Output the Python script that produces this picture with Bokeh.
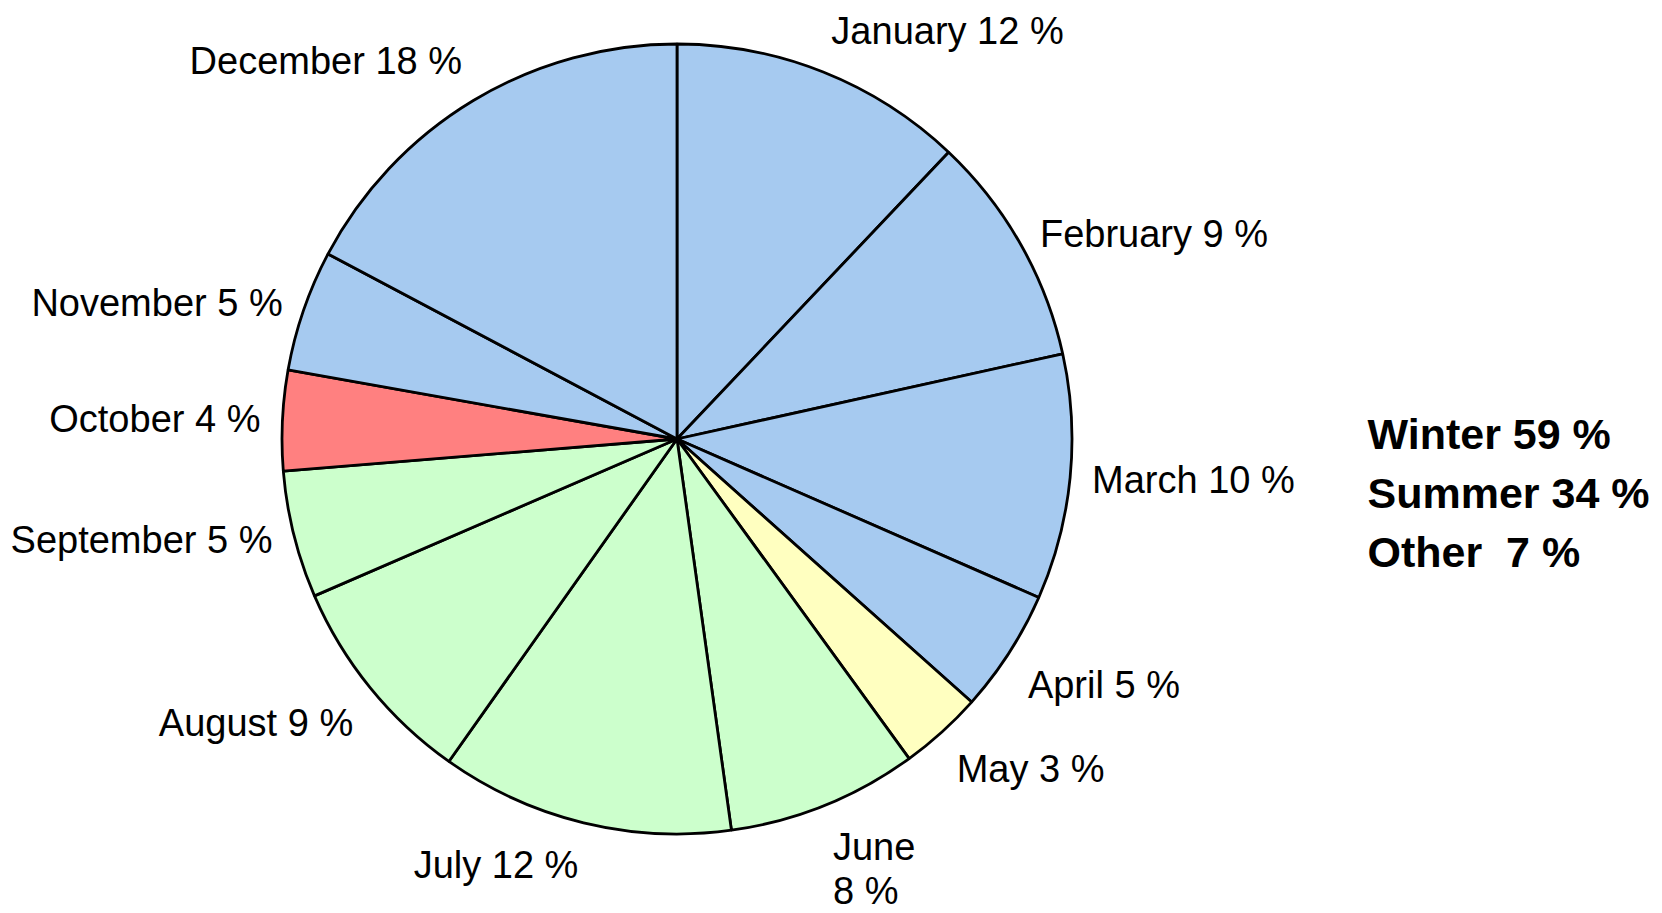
import numpy as np
from bokeh.plotting import figure
from bokeh.models import Range1d, ColumnDataSource
from bokeh.core.properties import value
from bokeh.embed import file_html
from bokeh.resources import INLINE

# ---- data -------------------------------------------------------------
months = ["January", "February", "March", "April", "May", "June",
          "July", "August", "September", "October", "November", "December"]
# slice sizes as drawn (share of the whole, %)
shares = [12.07, 9.47, 10.03, 5.03, 3.40, 7.80, 12.00, 8.70, 5.20, 4.10, 4.96, 17.24]
# percentages as printed in the labels
pct_labels = [12, 9, 10, 5, 3, 8, 12, 9, 5, 4, 5, 18]
seasons = ["Winter", "Winter", "Winter", "Winter", "Other", "Summer",
           "Summer", "Summer", "Summer", "Other", "Winter", "Winter"]
season_order = ["Winter", "Summer", "Other"]
wrapped_months = ["June"]

# ---- styles -----------------------------------------------------------
BLUE, GREEN, YELLOW, RED = "#a6caf0", "#ccffcc", "#ffffc0", "#ff8080"
slice_colors = [BLUE, BLUE, BLUE, BLUE, YELLOW, GREEN,
                GREEN, GREEN, GREEN, RED, BLUE, BLUE]
FONT = "Liberation Sans"

W, H = 1662, 913                 # window size
FW, FH = 1654, 913               # figure size
CX, CY = 676.5, H - 438.5        # pie centre (data units = pixels, y up)
R = 395
LABEL_D = R + 22

p = figure(width=FW, height=FH, output_backend="svg",
           toolbar_location=None, min_border=0,
           x_range=Range1d(0, FW), y_range=Range1d(H - FH, H))
p.axis.visible = False
p.grid.visible = False
p.outline_line_color = None
p.background_fill_color = "white"
p.border_fill_color = "white"

frac = np.array(shares) / np.sum(shares)
cum = np.cumsum(frac)
start = np.pi / 2 - 2 * np.pi * (cum - frac)
end = np.pi / 2 - 2 * np.pi * cum
mid = (start + end) / 2

src = ColumnDataSource(dict(start=start, end=end, color=slice_colors))
p.wedge(x=CX, y=CY, radius=R, start_angle="start", end_angle="end",
        direction="clock", fill_color="color", line_color="black",
        line_width=2.8, source=src)

# ---- slice labels -----------------------------------------------------
ux, uy = np.cos(mid), np.sin(mid)
lx = CX + LABEL_D * ux
ly = CY + LABEL_D * uy
texts, aligns, baselines = [], [], []
for m, pc, a, b in zip(months, pct_labels, ux, uy):
    sep = "\n" if m in wrapped_months else " "
    texts.append(f"{m}{sep}{pc} %")
    aligns.append("left" if a > 0.2 else ("right" if a < -0.2 else "center"))
    baselines.append("bottom" if b > 0.5 else ("top" if b < -0.5 else "middle"))

lsrc = ColumnDataSource(dict(x=lx, y=ly, text=texts, align=aligns, base=baselines))
p.text(x="x", y="y", text="text", text_align="align", text_baseline="base",
       text_font=value(FONT), text_font_size="38px", text_color="black",
       text_line_height=1.05, source=lsrc)

# ---- season totals ----------------------------------------------------
totals = {s: 0 for s in season_order}
for s, pc in zip(seasons, pct_labels):
    totals[s] += pc
NBSP = "\u00a0"
sum_texts = [f"{s} {str(totals[s]).rjust(2, NBSP)} %" for s in season_order]
sx = [1367] * len(sum_texts)
sy = [H - (433 + 59 * i) for i in range(len(sum_texts))]
p.text(x=sx, y=sy, text=sum_texts, text_align="left", text_baseline="middle",
       text_font=value(FONT), text_font_size="43px", text_font_style="bold",
       text_color="black")

open("out.html", "w").write(file_html(p, INLINE))
